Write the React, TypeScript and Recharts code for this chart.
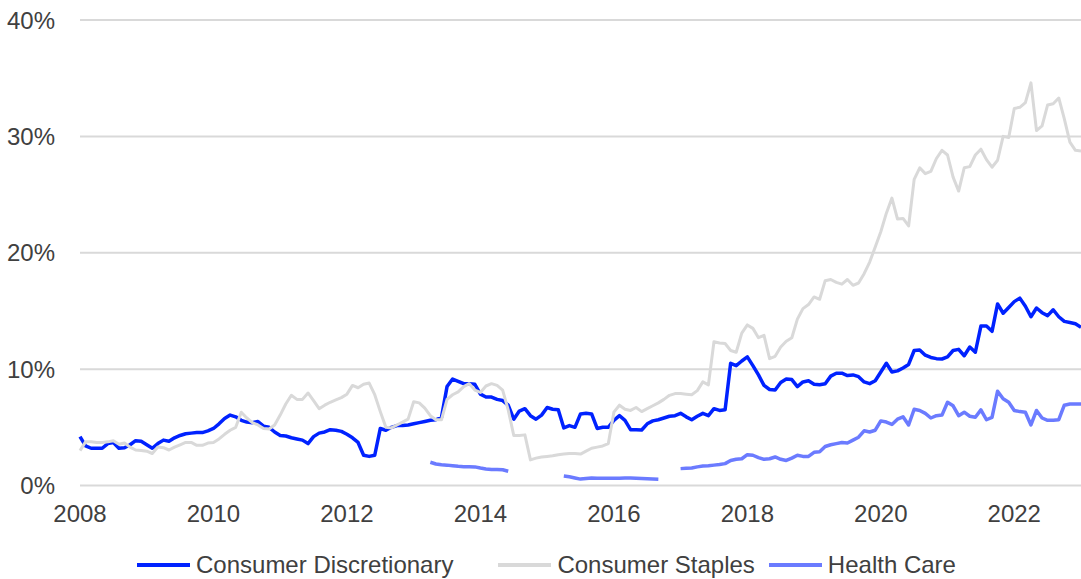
import React from 'react';
import { LineChart, Line, XAxis, YAxis, CartesianGrid, Legend } from 'recharts';

const FONT = '"Liberation Sans", Arial, Helvetica, sans-serif';
const TEXT = '#404040';

// monthly, Jan 2008 .. Jan 2023
const START_YEAR = 2008;
const YEAR_TICKS = [2008, 2010, 2012, 2014, 2016, 2018, 2020, 2022];
const PCT_TICKS = [0, 10, 20, 30, 40];

const discretionary = [
  4.2, 3.4, 3.2, 3.2, 3.2, 3.6, 3.7, 3.2, 3.25, 3.5, 3.85, 3.8,
  3.5, 3.2, 3.6, 3.9, 3.8, 4.1, 4.3, 4.45, 4.5, 4.55, 4.55, 4.7,
  4.9, 5.3, 5.75, 6.05, 5.9, 5.6, 5.45, 5.4, 5.5, 5.1, 5.0, 4.6,
  4.3, 4.25, 4.1, 4.0, 3.9, 3.6, 4.2, 4.5, 4.6, 4.8, 4.75, 4.65,
  4.4, 4.1, 3.7, 2.6, 2.5, 2.6, 4.9, 4.75, 5.0, 5.15, 5.15, 5.2,
  5.3, 5.4, 5.5, 5.6, 5.65, 5.85, 8.5, 9.15, 8.95, 8.75, 8.75, 8.7,
  7.85, 7.6, 7.6, 7.4, 7.3, 6.9, 5.7, 6.4, 6.6, 6.0, 5.7, 6.05,
  6.7, 6.55, 6.5, 4.95, 5.15, 5.0, 6.15, 6.2, 6.15, 4.9, 5.0, 5.0,
  5.6, 6.0, 5.6, 4.8, 4.8, 4.77, 5.3, 5.55, 5.65, 5.8, 5.95, 6.0,
  6.2, 5.9, 5.65, 5.95, 6.2, 6.0, 6.6, 6.45, 6.5, 10.5, 10.3, 10.7,
  11.05, 10.3, 9.5, 8.6, 8.25, 8.2, 8.85, 9.15, 9.1, 8.5, 8.9, 9.0,
  8.7, 8.65, 8.75, 9.4, 9.65, 9.65, 9.45, 9.5, 9.35, 8.9, 8.75, 9.0,
  9.75, 10.5, 9.75, 9.85, 10.1, 10.4, 11.6, 11.65, 11.2, 11.0, 10.9, 10.87,
  11.05, 11.6, 11.7, 11.15, 11.9, 11.45, 13.7, 13.7, 13.25, 15.6, 14.8, 15.3,
  15.8, 16.1, 15.4, 14.5, 15.25, 14.85, 14.6, 15.1, 14.5, 14.1, 14.0, 13.9,
  13.6,
];

const staples = [
  3.0, 3.75, 3.75, 3.7, 3.7, 3.75, 3.85, 3.55, 3.65, 3.3, 3.05, 3.0,
  2.95, 2.75, 3.3, 3.25, 3.05, 3.3, 3.5, 3.7, 3.7, 3.45, 3.45, 3.65,
  3.7, 4.0, 4.4, 4.75, 5.0, 6.3, 5.8, 5.4, 5.2, 4.9, 4.85, 5.2,
  6.05, 7.0, 7.75, 7.4, 7.4, 7.95, 7.3, 6.6, 6.9, 7.15, 7.35, 7.55,
  7.85, 8.6, 8.4, 8.7, 8.8, 7.8, 6.35, 5.0, 4.95, 5.2, 5.45, 5.7,
  7.2, 7.1, 6.65, 6.0, 5.65, 5.65, 7.4, 7.8, 8.05, 8.5, 8.75, 8.2,
  8.0, 8.55, 8.75, 8.6, 8.2, 6.5, 4.3, 4.3, 4.35, 2.2, 2.35, 2.45,
  2.5, 2.55, 2.65, 2.7, 2.75, 2.75, 2.7, 2.95, 3.2, 3.3, 3.4, 3.6,
  6.3, 6.9, 6.55, 6.45, 6.7, 6.35, 6.6, 6.85, 7.1, 7.4, 7.75, 7.9,
  7.9, 7.85, 7.8, 8.15, 8.9, 8.65, 12.35, 12.25, 12.2, 11.6, 11.45, 13.1,
  13.8, 13.5, 12.7, 12.9, 10.9, 11.1, 11.9, 12.4, 12.7, 14.3, 15.2, 15.55,
  16.2, 16.0, 17.6, 17.7, 17.45, 17.3, 17.7, 17.2, 17.4, 18.2, 19.2, 20.5,
  21.8, 23.4, 24.7, 22.9, 22.95, 22.3, 26.3, 27.3, 26.8, 27.0, 28.1, 28.8,
  28.4, 26.5, 25.3, 27.3, 27.4, 28.4, 28.9, 28.0, 27.35, 27.95, 30.0, 29.9,
  32.4, 32.5, 32.9, 34.6, 30.5, 30.9, 32.7, 32.8, 33.3, 31.5, 29.5, 28.8,
  28.75,
];

// Health Care has gaps: each run starts at a month index (0 = Jan 2008)
const healthCareRuns = [
  { start: 63, values: [2.0, 1.85, 1.78, 1.75, 1.7, 1.65, 1.62, 1.62, 1.6, 1.5, 1.42, 1.38, 1.38, 1.35, 1.22] },
  { start: 87, values: [0.82, 0.75, 0.65, 0.55, 0.6, 0.65, 0.63, 0.62, 0.62, 0.62, 0.63, 0.65, 0.65, 0.62, 0.6, 0.57, 0.55, 0.53] },
  {
    start: 108,
    values: [
      1.45, 1.48, 1.5, 1.6, 1.67, 1.7, 1.75, 1.8, 1.88, 2.15, 2.25, 2.3,
      2.65, 2.6, 2.4, 2.25, 2.3, 2.45, 2.25, 2.15, 2.35, 2.6, 2.5, 2.5,
      2.85, 2.9, 3.35, 3.5, 3.6, 3.7, 3.65, 3.9, 4.15, 4.7, 4.6, 4.75,
      5.55, 5.45, 5.25, 5.7, 5.9, 5.2, 6.55, 6.45, 6.2, 5.8, 6.0, 6.05,
      7.15, 6.85, 6.0, 6.3, 5.95, 5.86, 6.5, 5.65, 5.85, 8.1, 7.45, 7.15,
      6.45, 6.35, 6.3, 5.2, 6.45, 5.8, 5.6, 5.6, 5.65, 6.9, 7.0, 7.0,
      7.0,
    ],
  },
];

const SERIES = [
  { key: 'disc', name: 'Consumer Discretionary', color: '#0022ff', width: 3.5, gap: 45 },
  { key: 'stap', name: 'Consumer Staples', color: '#d9d9d9', width: 3, gap: 14 },
  { key: 'hc', name: 'Health Care', color: '#6b7bff', width: 3.5, gap: 0 },
];

const healthCare: (number | null)[] = discretionary.map(() => null);
healthCareRuns.forEach((r) => r.values.forEach((v, i) => (healthCare[r.start + i] = v)));

const data = discretionary.map((v, i) => ({
  t: START_YEAR + i / 12,
  disc: v,
  stap: staples[i],
  hc: healthCare[i],
}));

const renderLegend = () => (
  <div
    style={{
      display: 'flex',
      height: 44,
      boxSizing: 'border-box',
      paddingTop: 16,
      paddingLeft: 137,
      fontFamily: FONT,
      fontSize: 24,
      lineHeight: '28px',
      color: TEXT,
    }}
  >
    {SERIES.map((s) => (
      <div key={s.key} style={{ display: 'flex', alignItems: 'center', marginRight: s.gap }}>
        <span style={{ display: 'inline-block', width: 53, height: 3.5, background: s.color, marginRight: 6 }} />
        <span>{s.name}</span>
      </div>
    ))}
  </div>
);

export default function App() {
  const tick = { fontSize: 24, fill: TEXT, fontFamily: FONT };
  return (
    <div style={{ position: 'absolute', left: 0, top: 0, background: '#fff' }}>
      <LineChart width={1081} height={579} data={data} margin={{ top: 20, right: 0, bottom: 0, left: 0 }}>
        <CartesianGrid vertical={false} stroke="#d9d9d9" strokeWidth={2} />
        <XAxis
          dataKey="t"
          type="number"
          domain={[2008, 2023]}
          ticks={YEAR_TICKS}
          interval={0}
          axisLine={false}
          tickLine={false}
          tickSize={0}
          tickMargin={19.5}
          height={49.5}
          tick={tick}
        />
        <YAxis
          domain={[0, 40]}
          ticks={PCT_TICKS}
          tickFormatter={(v) => `${v}%`}
          axisLine={false}
          tickLine={false}
          tickSize={0}
          tickMargin={25}
          width={80}
          tick={tick}
        />
        <Legend verticalAlign="bottom" height={44} content={renderLegend} />
        {SERIES.map((s) => (
          <Line
            key={s.key}
            dataKey={s.key}
            name={s.name}
            stroke={s.color}
            strokeWidth={s.width}
            dot={false}
            activeDot={false}
            isAnimationActive={false}
            strokeLinejoin="round"
          />
        ))}
      </LineChart>
    </div>
  );
}
